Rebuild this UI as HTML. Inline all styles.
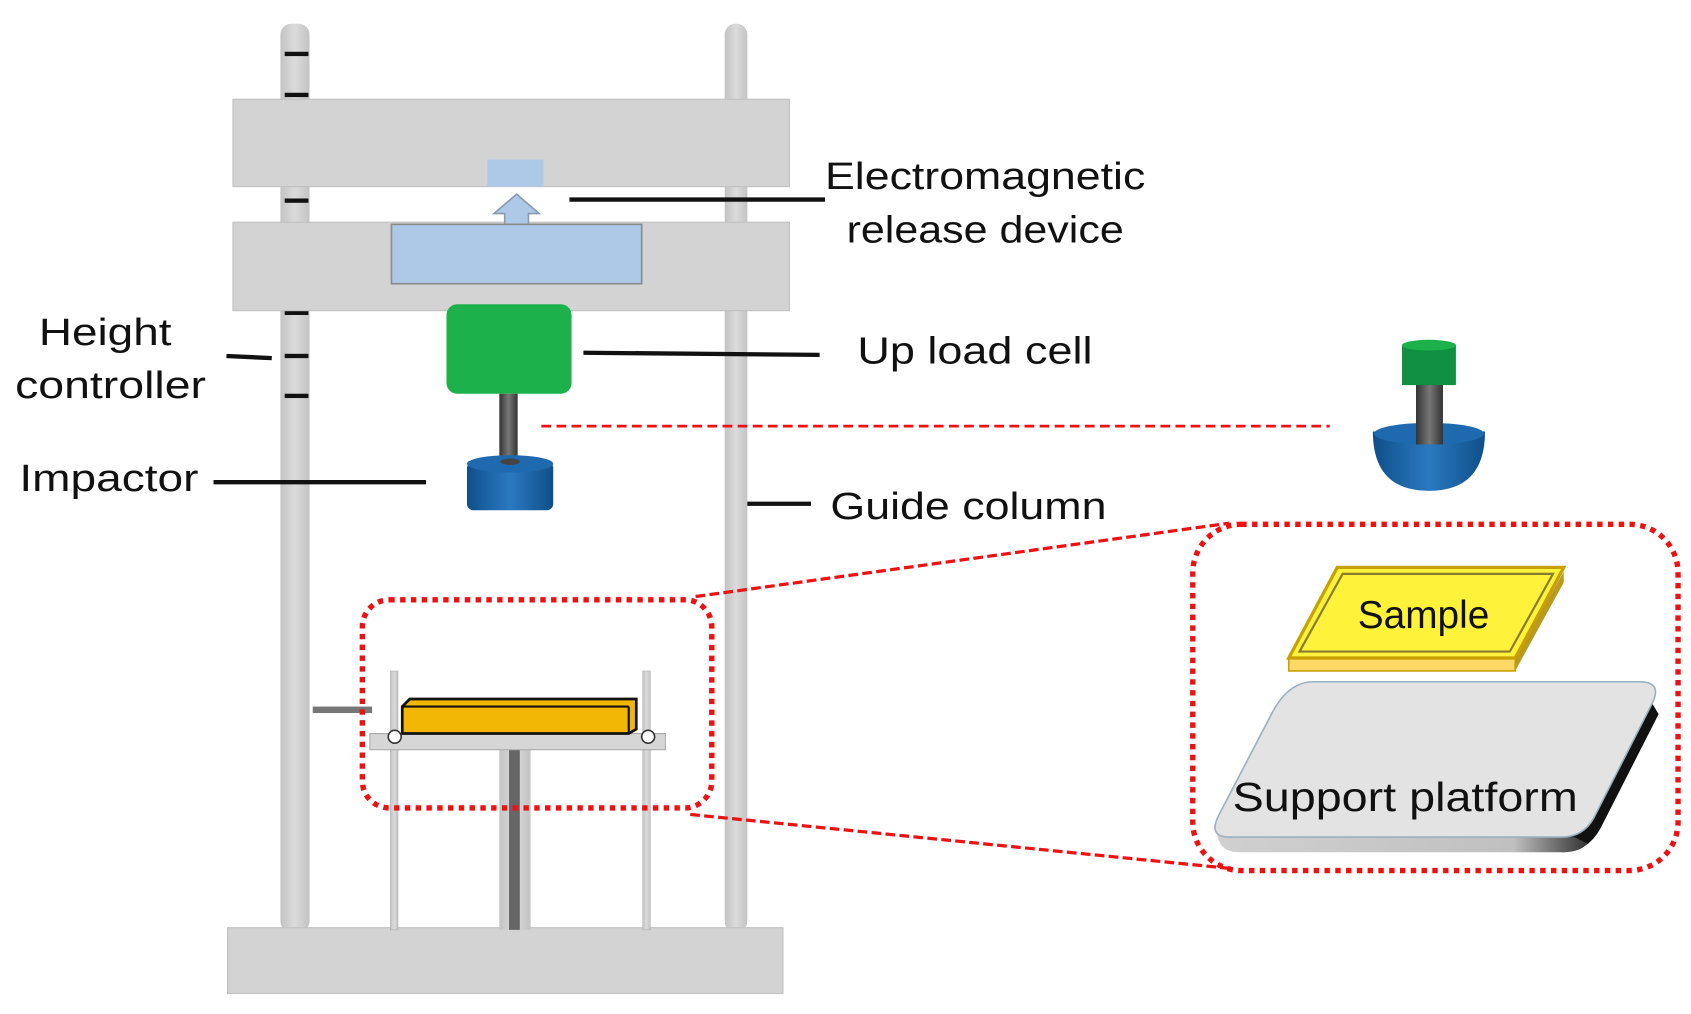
<!DOCTYPE html>
<html><head><meta charset="utf-8"><style>html,body{margin:0;padding:0;background:#fff;}svg{display:block}</style></head>
<body>
<svg width="1691" height="1014" viewBox="0 0 1568 940" preserveAspectRatio="none" xmlns="http://www.w3.org/2000/svg" font-family="Liberation Sans, sans-serif">
<defs>
<linearGradient id="col" x1="0" x2="1"><stop offset="0" stop-color="#c4c3c4"/><stop offset="0.5" stop-color="#dcdbdc"/><stop offset="1" stop-color="#c4c3c4"/></linearGradient>
<linearGradient id="blu" x1="0" x2="1"><stop offset="0" stop-color="#0f4f8a"/><stop offset="0.5" stop-color="#2a79c0"/><stop offset="1" stop-color="#0f4f8a"/></linearGradient>
<linearGradient id="rod" x1="0" x2="1"><stop offset="0" stop-color="#333"/><stop offset="0.5" stop-color="#777"/><stop offset="1" stop-color="#333"/></linearGradient>
<linearGradient id="pb" x1="0" x2="1"><stop offset="0" stop-color="#d0d0d0"/><stop offset="0.8" stop-color="#c0c0c0"/><stop offset="1" stop-color="#333"/></linearGradient>
</defs>
<rect x="260" y="22" width="27" height="842" rx="10" fill="url(#col)"/>
<rect x="672" y="22" width="21" height="842" rx="10" fill="url(#col)"/>
<g fill="#111">
<rect x="264" y="48" width="22" height="4"/><rect x="264" y="86" width="22" height="4"/>
<rect x="264" y="184" width="22" height="4"/><rect x="264" y="288" width="22" height="4"/>
<rect x="264" y="328" width="22" height="4"/><rect x="264" y="365" width="22" height="4"/>
</g>
<rect x="216" y="92" width="516" height="81" fill="#d4d3d4" stroke="#c0c0c0"/>
<rect x="216" y="206" width="516" height="82" fill="#d4d3d4" stroke="#c0c0c0"/>
<rect x="452" y="148" width="52" height="25" fill="#aec8e8"/>
<polygon points="479,180 500,198 490,198 490,210 468,210 468,198 458,198" fill="#aec8e8" stroke="#8a9ab0" stroke-width="1.5"/>
<rect x="363" y="208" width="232" height="55" fill="#aec8e8" stroke="#8a8a8a" stroke-width="1.5"/>
<rect x="414" y="282" width="116" height="83" rx="10" fill="#1db14b"/>
<rect x="463" y="365" width="17" height="65" fill="url(#rod)"/>
<rect x="433" y="428" width="80" height="45" rx="6" fill="url(#blu)"/>
<ellipse cx="473" cy="430" rx="40" ry="8" fill="#1f6aae"/>
<ellipse cx="473" cy="428" rx="9" ry="3" fill="#444"/>
<rect x="211" y="860" width="515" height="61" fill="#d4d3d4" stroke="#c0c0c0"/>
<rect x="362" y="622" width="7" height="240" fill="url(#col)" stroke="#aaa" stroke-width="0.5"/>
<rect x="596" y="622" width="7" height="240" fill="url(#col)" stroke="#aaa" stroke-width="0.5"/>
<rect x="463" y="690" width="29" height="172" fill="url(#col)"/>
<rect x="472" y="690" width="10" height="172" fill="#666"/>
<rect x="343" y="680" width="274" height="15" fill="#d6d6d6" stroke="#aaa"/>
<polygon points="373,655 380,648 590,648 590,676 583,680 373,680" fill="#f2b705" stroke="#111" stroke-width="2.5"/>
<line x1="373" y1="655" x2="583" y2="655" stroke="#111" stroke-width="2"/>
<line x1="583" y1="655" x2="583" y2="680" stroke="#111" stroke-width="2"/>
<circle cx="366" cy="683" r="6" fill="#fff" stroke="#333" stroke-width="1.5"/>
<circle cx="601" cy="683" r="6" fill="#fff" stroke="#333" stroke-width="1.5"/>
<rect x="290" y="655" width="55" height="6" fill="#777"/>
<g stroke="#111" stroke-width="4">
<line x1="528" y1="185" x2="765" y2="185"/>
<line x1="541" y1="327" x2="760" y2="329"/>
<line x1="210" y1="330" x2="252" y2="332"/>
<line x1="198" y1="447" x2="395" y2="447"/>
<line x1="693" y1="467" x2="752" y2="467"/>
</g>
<g font-size="35" fill="#111">
<text x="765" y="175" textLength="297" lengthAdjust="spacingAndGlyphs">Electromagnetic</text>
<text x="785" y="225" textLength="257" lengthAdjust="spacingAndGlyphs">release device</text>
<text x="36" y="320" textLength="123" lengthAdjust="spacingAndGlyphs">Height</text>
<text x="14" y="369" textLength="177" lengthAdjust="spacingAndGlyphs">controller</text>
<text x="18" y="455" textLength="166" lengthAdjust="spacingAndGlyphs">Impactor</text>
<text x="795" y="337" textLength="218" lengthAdjust="spacingAndGlyphs">Up load cell</text>
<text x="770" y="481" textLength="256" lengthAdjust="spacingAndGlyphs">Guide column</text>
</g>
<g fill="none" stroke="#ee1111">
<line x1="502" y1="395" x2="1233" y2="395" stroke-width="2.5" stroke-dasharray="9,5"/>
<line x1="645" y1="553" x2="1140" y2="485" stroke-width="3" stroke-dasharray="9,4"/>
<line x1="640" y1="755" x2="1140" y2="805" stroke-width="3" stroke-dasharray="9,4"/>
<rect x="336" y="556" width="324" height="193" rx="25" stroke-width="5" stroke-dasharray="5,5"/>
<rect x="1106" y="486" width="450" height="321" rx="45" stroke-width="5" stroke-dasharray="5,5"/>
</g>
<path d="M1273,400 Q1273,455 1325,455 Q1377,455 1377,400 Z" fill="url(#blu)"/>
<ellipse cx="1325" cy="402" rx="51" ry="10" fill="#1f6aae"/>
<rect x="1313" y="355" width="25" height="57" fill="url(#rod)"/>
<rect x="1300" y="320" width="50" height="37" fill="#0e9040"/>
<ellipse cx="1325" cy="320" rx="25" ry="5" fill="#1db14b"/>
<polygon points="1195,610 1405,610 1405,622 1195,622" fill="#ffd966" stroke="#c8a000" stroke-width="1.5"/>
<polygon points="1405,610 1450,530 1450,540 1405,622" fill="#b89a20"/>
<polygon points="1240,526 1450,526 1405,610 1195,610" fill="#fff23a" stroke="#c8a000" stroke-width="3"/>
<polygon points="1245,532 1440,532 1400,604 1205,604" fill="none" stroke="#8a7a30" stroke-width="2"/>
<text x="1320" y="582" font-size="36" text-anchor="middle" fill="#111">Sample</text>
<!-- platform: right black edge + gray underside -->
<path d="M1532,652 L1538,662 L1484,768 Q1472,790 1448,790 L1446,776 Q1468,776 1478,758 Z" fill="#111"/>
<path d="M1128,766 Q1128,790 1148,790 L1450,790 Q1465,790 1472,782 L1460,776 L1140,776 Q1128,776 1128,766 Z" fill="url(#pb)"/>
<path d="M1218,632 L1520,632 Q1542,632 1532,652 L1478,758 Q1468,776 1448,776 L1140,776 Q1120,776 1130,756 L1180,660 Q1195,632 1218,632 Z" fill="#e3e3e3" stroke="#9ab0c0" stroke-width="1.5"/>
<text x="1143" y="752" font-size="38" fill="#111" textLength="320" lengthAdjust="spacingAndGlyphs">Support platform</text>
</svg>
</body></html>
